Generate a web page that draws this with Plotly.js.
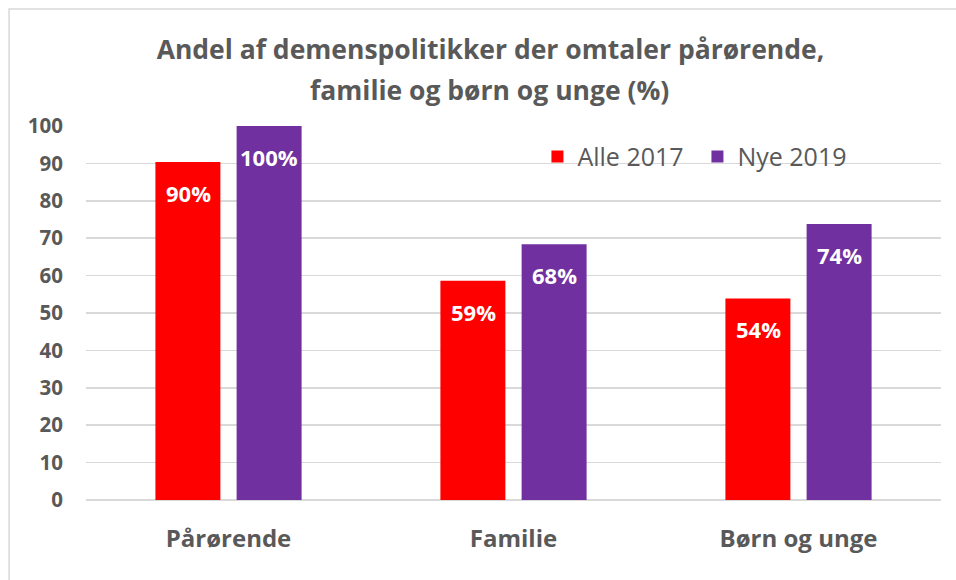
<!DOCTYPE html>
<html>
<head>
<meta charset="utf-8">
<script src="https://cdn.plot.ly/plotly-3.0.1.min.js"></script>
<style>html,body{margin:0;padding:0;background:#fff;}#chart{width:956px;height:580px;}</style>
</head>
<body>
<div id="chart"></div>
<script>
const categories = ["Pårørende", "Familie", "Børn og unge"];
const seriesNames = ["Alle 2017", "Nye 2019"];
const alle2017 = [90.4, 58.6, 53.9];
const nye2019 = [100, 68.4, 73.8];
const alle2017Labels = ["90%", "59%", "54%"];
const nye2019Labels = ["100%", "68%", "74%"];
const yTicks = [0, 10, 20, 30, 40, 50, 60, 70, 80, 90, 100];
const titleLines = ["Andel af demenspolitikker der omtaler pårørende,", "familie og børn og unge (%)"];

const FONT = "'Open Sans', sans-serif";
const GREY = "#595959";
const colors = ["#ff0000", "#7030a0"];

const traces = [
  {type: "bar", name: seriesNames[0], x: categories, y: alle2017, marker: {color: colors[0]}, hoverinfo: "none"},
  {type: "bar", name: seriesNames[1], x: categories, y: nye2019, marker: {color: colors[1]}, hoverinfo: "none"}
];

const annotations = [];
[[alle2017, alle2017Labels, -40.5], [nye2019, nye2019Labels, 40.5]].forEach(([vals, labs, dx]) => {
  vals.forEach((v, j) => {
    annotations.push({
      x: categories[j], y: v, xref: "x", yref: "y",
      text: labs[j], showarrow: false,
      xshift: dx, yshift: -31, yanchor: "middle", xanchor: "center",
      font: {family: FONT, size: 22, color: "#ffffff", weight: "bold"}
    });
  });
});
// second title line
annotations.push({
  xref: "paper", yref: "paper", x: 0.472, y: 1, yshift: 126 - 90, yanchor: "middle", xanchor: "center",
  text: titleLines[1], showarrow: false,
  font: {family: FONT, size: 26.5, color: GREY, weight: "bold"}
});

const layout = {
  width: 956, height: 580,
  margin: {l: 86, r: 15, t: 126, b: 80},
  paper_bgcolor: "#ffffff", plot_bgcolor: "#ffffff",
  title: {
    text: titleLines[0],
    x: 0.513, xanchor: "center", y: 1 - 50 / 580, yanchor: "middle",
    font: {family: FONT, size: 26.5, color: GREY, weight: "bold"}
  },
  barmode: "group", bargap: 0.43, bargroupgap: 0.2,
  xaxis: {
    type: "category", showgrid: false, zeroline: false, showline: false,
    ticks: "", tickfont: {family: FONT, size: 24, color: GREY, weight: "bold"}, ticklabelstandoff: 22
  },
  yaxis: {
    range: [0, 100], tickvals: yTicks, ticktext: yTicks.map(String),
    showgrid: true, gridcolor: "#d9d9d9", gridwidth: 1.5,
    zeroline: true, zerolinecolor: "#d9d9d9", zerolinewidth: 2.5,
    showline: false, ticks: "", ticklabelstandoff: 22,
    tickfont: {family: FONT, size: 20.5, color: GREY, weight: "bold"}
  },
  legend: {
    orientation: "h", x: 0.528, xanchor: "left", y: 0.918, yanchor: "middle",
    bgcolor: "rgba(0,0,0,0)", font: {family: FONT, size: 25, color: GREY},
    itemwidth: 30, traceorder: "normal", entrywidth: 115, entrywidthmode: "pixels"
  },
  annotations: annotations,
  shapes: [{
    type: "rect", xref: "paper", yref: "paper",
    x0: -0.09, x1: 1.3, y0: -0.5, y1: 1.313,
    line: {color: "#d9d9d9", width: 1.5}, layer: "below"
  }],
  showlegend: true
};

Plotly.newPlot("chart", traces, layout, {displayModeBar: false, staticPlot: true});
</script>
</body>
</html>
